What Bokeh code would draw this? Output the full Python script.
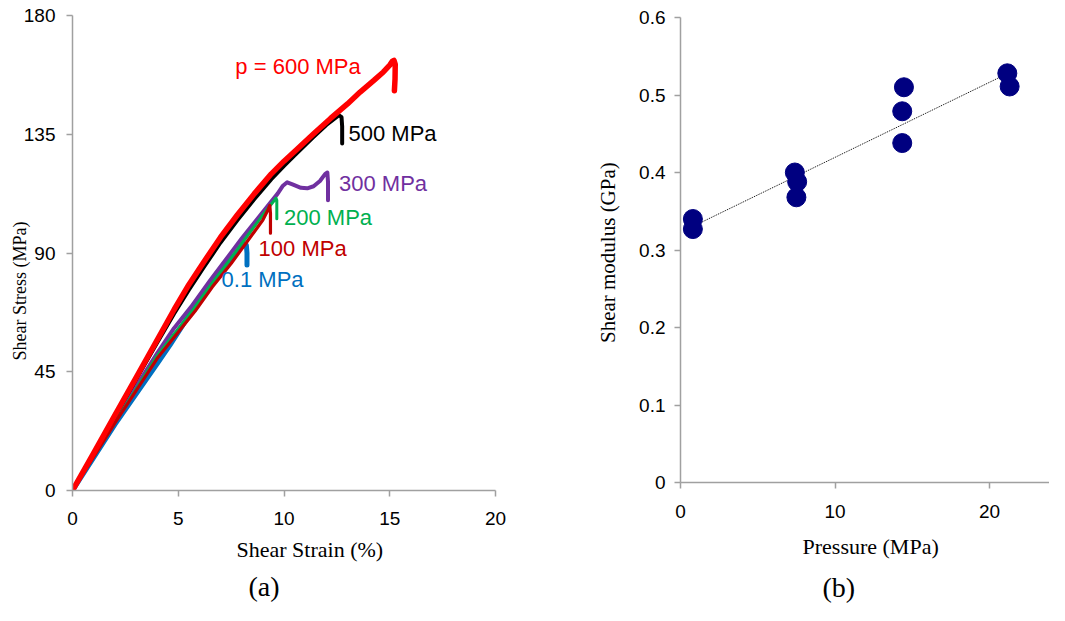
import numpy as np
from bokeh.plotting import figure
from bokeh.models import Label, FixedTicker, Range1d, Title
from bokeh.layouts import row, column
from bokeh.embed import file_html
from bokeh.resources import INLINE

# ---------------- data: panel (a) ----------------
strain_ticks = [0, 5, 10, 15, 20]
stress_ticks = [0, 45, 90, 135, 180]

labels_a = ["0.1 MPa", "100 MPa", "200 MPa", "300 MPa", "500 MPa", "p = 600 MPa"]

strain_01 = [0, 2, 4, 4.6, 5.2, 5.8, 6.5, 7.3, 7.7, 7.95, 8.12, 8.22, 8.25, 8.25]
stress_01 = [0, 25, 48, 55, 62.5, 70, 78, 86, 89.5, 92, 93.5, 93, 90, 85.5]

strain_100 = [0, 2, 4, 5.8, 6.6, 7.5, 8.5, 9.0, 9.25, 9.33, 9.36, 9.36]
stress_100 = [0, 25.5, 50, 68, 77, 86, 97, 102.5, 106.5, 108, 105, 97.5]

strain_200 = [0, 2, 4, 5.7, 6.5, 7.4, 8.5, 9.1, 9.5, 9.62, 9.66, 9.66]
stress_200 = [0, 25.8, 51, 68.5, 77.5, 87, 99, 105.5, 109.5, 110.8, 110, 103]

strain_300 = [0, 2, 4, 4.8, 5.6, 6.5, 7.3, 8.0, 8.7, 9.2, 9.7, 9.95, 10.15, 10.4, 10.8,
              11.1, 11.4, 11.7, 11.95, 12.05, 12.08, 12.08]
stress_300 = [0, 26.5, 52, 61.5, 69.5, 79.5, 88, 95.5, 102.5, 107.5, 112.5, 115.5, 116.8, 116,
              114.7, 114.5, 115.3, 117.3, 120, 120.5, 117, 110]

strain_500 = [0, 2, 4, 4.8, 5.5, 6.2, 7.0, 7.8, 8.6, 9.4, 10.0, 10.5, 11.4, 12.0, 12.4, 12.6,
              12.72, 12.75, 12.75]
stress_500 = [0, 28, 56, 67, 76, 84.5, 94, 102.5, 110.5, 118, 123, 127, 134, 138.5, 141, 142.2,
              141.5, 138, 131.5]

strain_600 = [0, 1, 2, 3, 4, 4.8, 5.5, 6.2, 7.0, 7.8, 8.6, 9.4, 10.0, 10.5, 11.4, 12.2, 13.0,
              13.6, 14.25, 14.7, 15.0, 15.12, 15.2, 15.26, 15.25, 15.22]
stress_600 = [0, 14.2, 28.5, 42.7, 57, 68.5, 78, 86.5, 96, 104.5, 112.5, 120, 124.8, 128.5,
              135.2, 141, 146.5, 151, 155.4, 158.6, 161.2, 162.6, 163, 161.5, 156, 151.5]

# ---------------- data: panel (b) ----------------
pressure_ticks = [0, 10, 20]
modulus_ticks = [0, 0.1, 0.2, 0.3, 0.4, 0.5, 0.6]
modulus_tick_labels = ["0", "0.1", "0.2", "0.3", "0.4", "0.5", "0.6"]

pressure = [0.8, 0.8, 7.4, 7.55, 7.5, 14.46, 14.35, 14.35, 21.15, 21.3]
shear_modulus = [0.340, 0.327, 0.400, 0.388, 0.368, 0.510, 0.479, 0.438, 0.528, 0.511]

# ---------------- styles ----------------
series_a = [
    (strain_01, stress_01, "#0070C0", 5.0),
    (strain_300, stress_300, "#7030A0", 4.0),
    (strain_200, stress_200, "#00B050", 3.0),
    (strain_100, stress_100, "#C00000", 3.2),
    (strain_500, stress_500, "#000000", 4.0),
    (strain_600, stress_600, "#FF0000", 5.5),
]
label_style = {  # text anchor (data coords), colour
    "0.1 MPa": (7.05, 79.8, "#0070C0"),
    "100 MPa": (8.8, 91.7, "#C00000"),
    "200 MPa": (10.0, 103.4, "#00B050"),
    "300 MPa": (12.6, 116.3, "#7030A0"),
    "500 MPa": (13.05, 135.3, "#000000"),
    "p = 600 MPa": (7.7, 160.8, "#FF0000"),
}

SANS = "Liberation Sans"
SERIF = "Liberation Serif"
AXIS_GREY = "#A0A0A0"


def style_axes(p, xticks, yticks, x_standoff, y_standoff):
    for ax in (p.xaxis[0], p.yaxis[0]):
        ax.axis_line_color = AXIS_GREY
        ax.axis_line_width = 1.5
        ax.major_tick_line_color = AXIS_GREY
        ax.major_tick_line_width = 1.5
        ax.major_tick_in = 0
        ax.major_tick_out = 6
        ax.minor_tick_line_color = None
        ax.major_label_text_font = SANS
        ax.major_label_text_font_size = "19px"
        ax.major_label_text_color = "#000000"
        ax.axis_label_text_font = SERIF
        ax.axis_label_text_font_size = "21px"
        ax.axis_label_text_font_style = "normal"
        ax.axis_label_text_color = "#000000"
    p.xaxis[0].ticker = FixedTicker(ticks=xticks)
    p.yaxis[0].ticker = FixedTicker(ticks=yticks)
    p.xaxis[0].major_label_standoff = x_standoff
    p.yaxis[0].major_label_standoff = y_standoff
    p.xgrid.visible = False
    p.ygrid.visible = False
    p.outline_line_color = None
    p.background_fill_color = "white"
    p.border_fill_color = "white"


def side_title(text, size, offset, standoff, font=SERIF):
    return Title(text=text, align="left", offset=offset, standoff=standoff,
                 text_font=font, text_font_size=size, text_font_style="normal",
                 text_color="#000000", vertical_align="bottom")


# ---------------- panel (a) ----------------
p1 = figure(width=545, height=605, x_range=Range1d(0, 20), y_range=Range1d(0, 180),
            output_backend="svg", toolbar_location=None,
            min_border_left=72, min_border_right=50, min_border_top=15, min_border_bottom=115)
style_axes(p1, strain_ticks, stress_ticks, 15, 11)

for xs, ys, col, lw in series_a:
    p1.line(xs, ys, line_color=col, line_width=lw, line_join="round", line_cap="round")

for name in labels_a:
    lx, ly, col = label_style[name]
    p1.add_layout(Label(x=lx, y=ly, text=name, text_font=SANS, text_font_size="22px",
                        text_color=col, text_align="left", text_baseline="middle"))

p1.add_layout(side_title("Shear Strain  (%)", "22px", 164, 14), "below")
p1.add_layout(side_title("(a)", "28px", 176, 0), "below")
p1.add_layout(side_title("Shear Stress (MPa)", "18px", 130, -19), "left")

# ---------------- panel (b) ----------------
p2 = figure(width=504, height=605, x_range=Range1d(0, 23.88), y_range=Range1d(0, 0.6),
            output_backend="svg", toolbar_location=None,
            min_border_left=135, min_border_right=0, min_border_top=17, min_border_bottom=123)
style_axes(p2, pressure_ticks, modulus_ticks, 16, 9)
p2.yaxis[0].major_label_overrides = dict(zip(modulus_ticks, modulus_tick_labels))
p2.yaxis[0].axis_label = "Shear modulus  (GPa)"
p2.yaxis[0].axis_label_standoff = 16

slope, intercept = np.polyfit(pressure, shear_modulus, 1)
x_fit = np.array([min(pressure), max(pressure)])
p2.line(x_fit, slope * x_fit + intercept, line_color="#000000", line_width=1, line_dash="1 1")
p2.scatter(pressure, shear_modulus, size=19, marker="circle", fill_color="#000080",
           line_color="#000080")

p2.add_layout(side_title("Pressure (MPa)", "22px", 122, 22), "below")
p2.add_layout(side_title("(b)", "28px", 142, 0), "below")

layout = row(column(p1), column(p2))
open("out.html", "w").write(file_html(layout, INLINE))
